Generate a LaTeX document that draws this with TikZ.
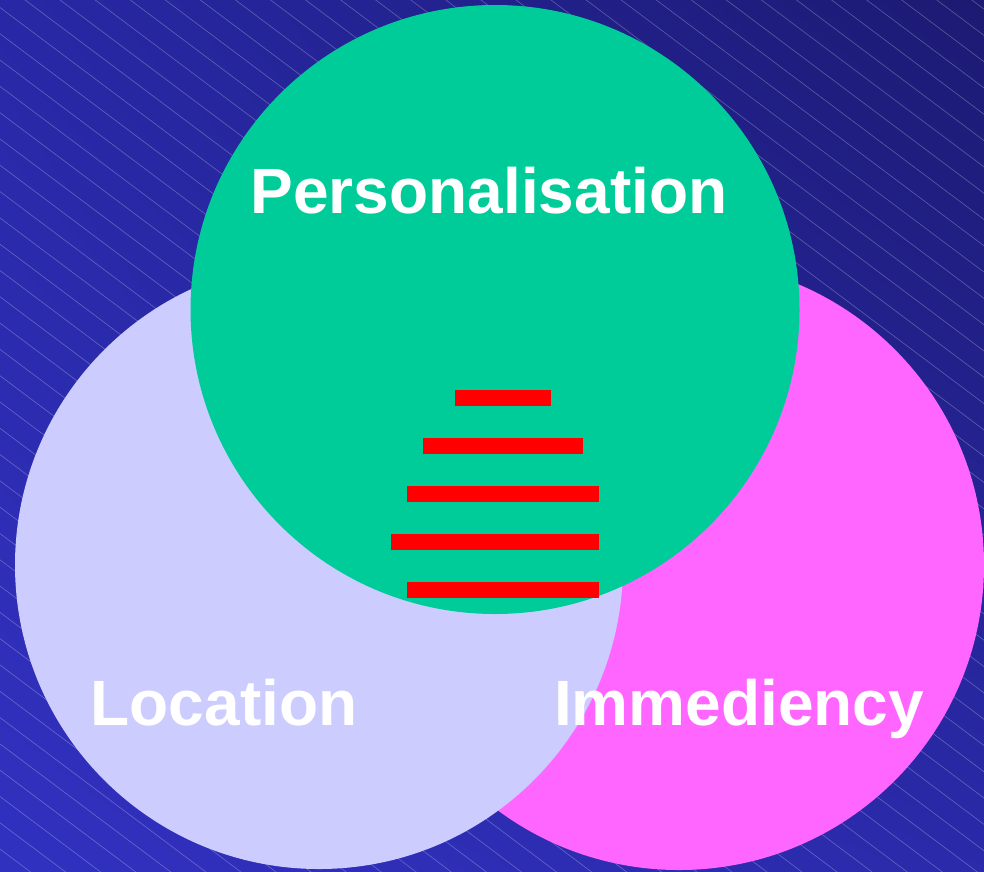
\documentclass[tikz,border=0pt]{standalone}
\usepackage{fontspec}
\setmainfont{Liberation Sans}
\usetikzlibrary{shadings}
\begin{document}
\begin{tikzpicture}[x=1pt,y=-1pt,
  blob/.style={circle,inner sep=0pt,minimum size=#1},
  lbl/.style={text=white,font=\fontsize{64}{70}\selectfont\bfseries,anchor=base,inner sep=0pt},
  bar/.style={fill=barred,draw=none},
  hatch/.style={draw=white,draw opacity=0.28,line width=0.6pt}]
\definecolor{bgLL}{HTML}{3131C0}
\definecolor{bgLR}{HTML}{2A2AAA}
\definecolor{bgUL}{HTML}{2828A6}
\definecolor{bgUR}{HTML}{1C1A72}
\definecolor{pgreen}{HTML}{00CC99}
\definecolor{plav}{HTML}{CCCCFF}
\definecolor{ppink}{HTML}{FF66FF}
\definecolor{barred}{HTML}{FF0000}
\useasboundingbox (0,0) rectangle (984,871);
\begin{scope}
\clip (0,0) rectangle (984,871);
\shade[lower left=bgLL,lower right=bgLR,upper left=bgUL,upper right=bgUR] (0,871) rectangle (984,0);
\foreach \k in {-29,...,34}{
  \draw[hatch] (-10,{7.5+26.3*\k-7.5}) -- (1000,{7.5+26.3*\k+750});
}
\node[blob=610pt,fill=ppink] (imm) at (679,565) {};
\node[blob=608pt,fill=plav] (loc) at (319,565) {};
\node[blob=609pt,fill=pgreen] (pers) at (495,309.5) {};
\end{scope}
\node[lbl] (tpers) at (489,213) {Personalisation};
\node[lbl] (tloc) at (224,725) {Location};
\node[lbl] (timm) at (739,725) {Immediency};
\fill[bar] (455.3,390) rectangle (551,405.7);
\fill[bar] (423.3,438) rectangle (583.3,453.7);
\fill[bar] (407.3,486) rectangle (599.3,501.7);
\fill[bar] (391.3,534) rectangle (599.3,549.7);
\fill[bar] (407.3,582) rectangle (599.3,597.7);
\end{tikzpicture}
\end{document}
